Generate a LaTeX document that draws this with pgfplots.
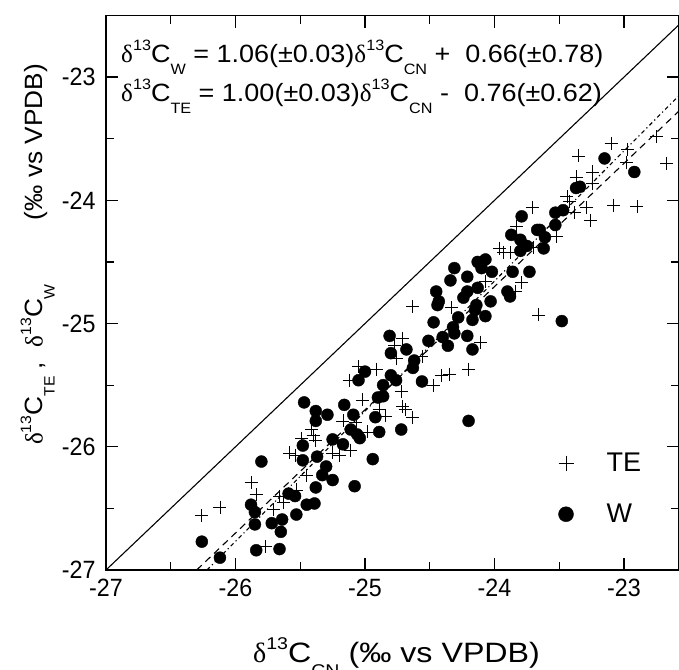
\documentclass[border=0pt]{standalone}
\usepackage{pgfplots}
\pgfplotsset{compat=1.18}
\usepackage{fontspec}
\setmainfont{Liberation Sans}
\newfontfamily\grk{Liberation Serif}
\newfontfamily\eqfont{Liberation Sans}[FakeStretch=1.08]
\newfontfamily\xlfont{Liberation Sans}[FakeStretch=1.15]
\newfontfamily\tkfont{Liberation Sans}[FakeStretch=0.93]
\newfontfamily\ylfont{Liberation Sans}[FakeStretch=1.05]
\newcommand\dl{{\grk δ}}
% script helpers: size, raise, text
\newcommand\scr[3]{\raisebox{#2}{\fontsize{#1}{#1}\selectfont #3}}
\newcommand\sups[1]{\scr{15pt}{11.5pt}{#1}}
\newcommand\subs[1]{\scr{15pt}{-12pt}{#1}}
\newcommand\xsups[1]{\scr{17pt}{13pt}{#1}}
\newcommand\xsubs[1]{\scr{17pt}{-13.5pt}{#1}}

\pgfplotstableread{
x y
-25.80 -26.12
-26.26 -26.77
-26.12 -26.90
-25.88 -26.47
-25.85 -26.53
-25.85 -26.63
-25.84 -26.84
-25.72 -26.62
-25.64 -26.59
-25.65 -26.69
-25.66 -26.83
-25.59 -26.38
-25.54 -26.40
-25.53 -26.55
-25.45 -26.47
-25.39 -26.46
-25.48 -25.99
-25.48 -26.11
-25.37 -26.08
-25.38 -26.33
-25.33 -26.23
-25.30 -26.16
-25.25 -26.27
-25.25 -25.94
-25.38 -25.79
-24.81 -25.10
-24.68 -25.21
-24.80 -25.24
-24.51 -25.14
-24.47 -24.99
-24.62 -25.30
-24.63 -25.36
-24.56 -25.47
-25.00 -25.39
-25.05 -25.46
-24.80 -25.42
-24.76 -25.46
-24.86 -25.50
-24.90 -25.60
-24.86 -25.59
-25.47 -25.64
-25.38 -25.71
-25.29 -25.74
-25.16 -25.66
-25.09 -25.74
-24.92 -25.76
-25.11 -25.86
-25.06 -25.90
-25.04 -25.93
-25.17 -25.98
-24.89 -25.88
-24.72 -25.86
-24.94 -26.10
-25.08 -26.32
-24.31 -24.55
-24.34 -24.65
-24.21 -24.62
-24.13 -24.50
-24.07 -24.48
-24.10 -24.55
-24.02 -24.58
-24.45 -24.74
-24.43 -24.82
-24.44 -24.85
-24.21 -24.74
-24.24 -24.79
-24.13 -24.71
-24.14 -24.85
-24.15 -24.89
-24.03 -24.82
-23.90 -24.74
-23.88 -24.78
-24.07 -24.94
-24.17 -24.97
-24.28 -24.95
-24.32 -25.03
-24.31 -25.08
-24.40 -25.11
-24.36 -25.18
-24.21 -25.10
-24.17 -25.21
-23.87 -24.28
-23.80 -24.32
-23.75 -24.37
-23.80 -24.41
-23.73 -24.58
-23.86 -24.58
-23.67 -24.24
-23.15 -23.66
-22.92 -23.77
-23.37 -23.90
-23.34 -23.89
-23.53 -24.10
-23.47 -24.08
-23.79 -24.13
-23.53 -24.20
-23.65 -24.24
-23.61 -24.30
-23.62 -24.39
-24.20 -25.79
-23.48 -24.98
}\Wdata

\pgfplotstableread{
x y
-26.26 -26.56
-26.12 -26.49
-25.88 -26.29
-25.84 -26.39
-25.77 -26.81
-25.71 -26.51
-25.63 -26.45
-25.66 -26.40
-25.53 -26.35
-25.58 -26.05
-25.54 -26.07
-25.45 -26.23
-25.49 -25.93
-25.40 -25.91
-25.38 -25.95
-25.25 -26.05
-24.71 -25.12
-24.77 -25.18
-24.76 -25.28
-25.05 -25.35
-24.91 -25.37
-25.12 -25.46
-24.56 -25.27
-24.47 -25.50
-25.02 -25.62
-24.72 -25.55
-24.71 -25.67
-24.69 -25.70
-24.63 -25.76
-24.84 -25.75
-24.89 -25.70
-25.17 -25.79
-25.07 -25.80
-24.98 -25.88
-25.41 -25.86
-25.20 -26.07
-25.11 -26.03
-24.63 -24.86
-24.33 -24.87
-24.07 -24.66
-23.96 -24.39
-23.93 -24.42
-23.88 -24.42
-23.79 -24.67
-23.84 -24.74
-23.70 -24.38
-23.83 -24.21
-24.11 -25.15
-24.20 -25.37
-24.41 -25.42
-24.35 -25.41
-23.66 -24.93
-23.10 -23.54
-23.35 -23.64
-22.97 -23.59
-22.75 -23.48
-22.67 -23.70
-22.98 -23.69
-23.24 -23.77
-23.37 -23.81
-23.24 -23.86
-23.44 -23.97
-23.42 -24.01
-23.29 -24.06
-23.08 -24.04
-22.90 -24.05
-23.26 -24.16
-23.38 -24.10
-23.71 -24.06
-23.52 -24.29
}\TEdata

\begin{document}
\begin{tikzpicture}
\begin{axis}[
  at={(0pt,0pt)}, anchor=south west,
  scale only axis, width=573pt, height=554.5pt,
  xmin=-27, xmax=-22.575, ymin=-27, ymax=-22.5,
  xtick={-27,-26,-25,-24,-23}, xticklabels={-27,-26,-25,-24,-23},
  ytick={-27,-26,-25,-24,-23}, yticklabels={-27,-26,-25,-24,-23},
  minor x tick num=1, minor y tick num=1,
  tick align=inside,
  major tick length=12pt, minor tick length=8pt,
  every tick/.style={black, line width=1.3pt},
  axis line style={line width=1.6pt},
  tick label style={font=\tkfont\fontsize{25}{29}\selectfont},
  xticklabel style={yshift=-6pt},
  yticklabel style={xshift=-7pt},
  xlabel={\dl\xsups{13}C\xsubs{CN} (‰ vs VPDB)},
  ylabel={\dl\sups{13}C\subs{TE} , \ \dl\sups{13}C\subs{W}\hspace{64pt}(‰ vs VPDB)},
  every axis x label/.style={at={(rel axis cs:0.2565,-0.1677)}, anchor=base west,
    inner sep=0pt, font=\xlfont\fontsize{28}{32}\selectfont},
  every axis y label/.style={at={(rel axis cs:-0.1108,0.2254)}, rotate=90, anchor=base west,
    inner sep=0pt, font=\ylfont\fontsize{25}{29}\selectfont},
  legend style={draw=none, fill=none, at={(axis cs:-23.53,-26.34)}, anchor=west,
    font=\fontsize{27}{31}\selectfont, row sep=27pt, column sep=31pt},
  legend image post style={mark size=7.5pt},
  legend cell align=left,
]
\addplot[black, line width=1.1pt, forget plot] coordinates {(-27,-27) (-22.5,-22.5)};
\addplot[black, line width=1.1pt, dash pattern=on 7pt off 5pt, forget plot] coordinates {(-26.30,-27) (-22.575,-23.275)};
\addplot[black, line width=1.1pt, dash pattern=on 4pt off 3pt on 1.2pt off 3pt, forget plot] coordinates {(-26.22,-27) (-22.575,-23.15)};
\addplot[only marks, mark=+, mark size=6.5pt, black, line width=0.8pt] table[x=x,y=y] {\TEdata};
\addlegendentry{TE}
\addplot[only marks, mark=*, mark size=6pt, black, fill=black] table[x=x,y=y] {\Wdata};
\addlegendentry{W}
\node[anchor=base west, inner sep=0pt, font=\eqfont\fontsize{25}{29}\selectfont] at (axis cs:-26.884,-22.878)
  {\dl\sups{13}C\subs{W} = 1.06(±0.03)\dl\sups{13}C\subs{CN} + \ 0.66(±0.78)};
\node[anchor=base west, inner sep=0pt, font=\eqfont\fontsize{25}{29}\selectfont] at (axis cs:-26.884,-23.196)
  {\dl\sups{13}C\subs{TE} = 1.00(±0.03)\dl\sups{13}C\subs{CN} - \ 0.76(±0.62)};
\end{axis}
\pgfresetboundingbox
\useasboundingbox (-106pt,-99pt) rectangle (573pt,570pt);
\end{tikzpicture}
\end{document}
